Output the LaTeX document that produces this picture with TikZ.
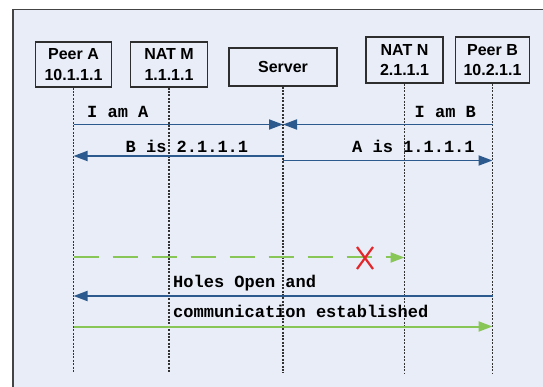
\documentclass[tikz,border=0pt]{standalone}
\usepackage{fontspec}
\setmainfont{Liberation Sans}
\setmonofont{Liberation Mono}
\usetikzlibrary{arrows.meta}
\definecolor{panelbg}{HTML}{E8EDF7}
\definecolor{panelline}{HTML}{444444}
\definecolor{boxline}{HTML}{2E2E2E}
\definecolor{lifecol}{HTML}{333333}
\definecolor{msgblue}{HTML}{2D5A8E}
\definecolor{okgreen}{HTML}{88C657}
\definecolor{xred}{HTML}{E3262A}
\tikzset{
  box/.style={draw=boxline, fill=panelbg, line width=1.4pt, inner sep=0pt, align=center,
    font=\bfseries\fontsize{16}{20.7}\selectfont},
  life/.style={draw=lifecol, line width=1.8pt, dash pattern=on 2pt off 1.4pt},
  tipstyle/.style={-{Triangle[length=14pt,width=10pt]}},
  msg/.style={draw=msgblue, line width=1.8pt, tipstyle},
  okmsg/.style={draw=okgreen, line width=2pt, tipstyle},
  lbl/.style={anchor=base west, inner sep=0pt, text=black,
    font=\ttfamily\bfseries\fontsize{17}{20}\selectfont},
}
\begin{document}
\begin{tikzpicture}[x=1pt,y=-1pt]
\useasboundingbox (0,0) rectangle (543,387);
\clip (0,0) rectangle (543,387);
\fill[white] (0,0) rectangle (543,387);
\filldraw[fill=panelbg, draw=panelline, line width=1.6pt] (13,9.5) rectangle (560,400);

% participants
\node[box, minimum width=76pt, minimum height=45pt] (pA) at (73.5,64.5) {Peer A\\10.1.1.1};
\node[box, minimum width=77pt, minimum height=45pt] (nM) at (169,64.5) {NAT M\\1.1.1.1};
\node[box, minimum width=108pt, minimum height=38pt] (srv) at (283,67) {Server};
\node[box, minimum width=77pt, minimum height=46pt] (nN) at (404.5,60) {NAT N\\2.1.1.1};
\node[box, minimum width=74pt, minimum height=46pt] (pB) at (492.5,60) {Peer B\\10.2.1.1};

% row coordinates
\coordinate (bot) at (0,373);
\coordinate (r1) at (0,124.5);
\coordinate (r2) at (0,156);
\coordinate (r3) at (0,160.5);
\coordinate (r4) at (0,257.5);
\coordinate (r5) at (0,296);
\coordinate (r6) at (0,326.5);

% lifelines
\foreach \n in {pA,nM,srv,nN,pB}{
  \draw[life] (\n.south) -- (\n |- bot);
}

% messages
\draw[msg] (pA |- r1) -- (srv |- r1);
\draw[msg] (pB |- r1) -- (srv |- r1);
\node[lbl] (tA) at (87,118) {I am A};
\node[lbl] (tB) at (414.5,117.5) {I am B};

\draw[msg] (srv |- r2) -- (pA |- r2);
\draw[msg] (srv |- r3) -- (pB |- r3);
\node[lbl] (tBis) at (125.5,152.5) {B is 2.1.1.1};
\node[lbl] (tAis) at (352,152.5) {A is 1.1.1.1};

\draw[okmsg, dash pattern=on 25pt off 14pt] (pA |- r4) -- (nN |- r4);
\draw[xred, line width=2.2pt] (357,247) -- (373,269) (373,247) -- (357,269);

\draw[msg] (pB |- r5) -- (pA |- r5);
\node[lbl] (tH) at (173,287.5) {Holes Open and};
\node[lbl] (tC) at (173,317) {communication established};
\draw[okmsg] (pA |- r6) -- (pB |- r6);
\end{tikzpicture}
\end{document}
